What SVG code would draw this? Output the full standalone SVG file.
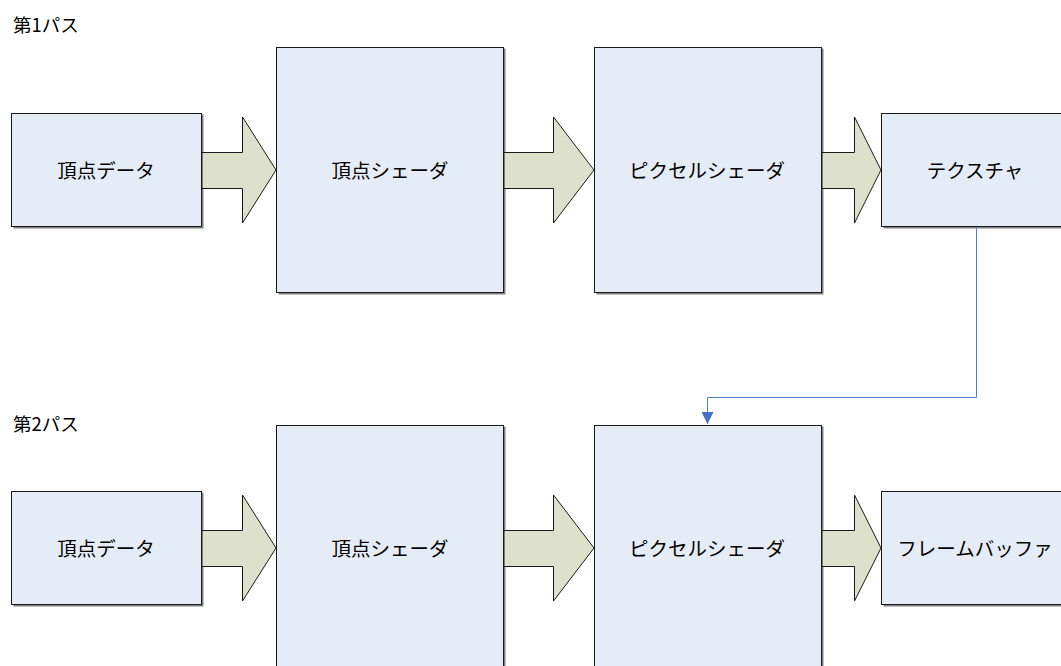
<svg xmlns="http://www.w3.org/2000/svg" width="1061" height="666" viewBox="0 0 1061 666">
<defs>
<style>
.box{fill:#e6ecf6;stroke:#1a1a1a;stroke-width:1}
.sh{fill:#808080}
.arr{fill:#dde0cb;stroke:#1a1a1a;stroke-width:1;stroke-linejoin:miter}
.lbl{font-family:"Noto Sans CJK JP","Noto Sans",sans-serif;font-size:19.5px;fill:#000;text-anchor:middle;dominant-baseline:central}
.ttl{font-family:"Noto Sans CJK JP","Noto Sans",sans-serif;font-size:18.5px;fill:#000}
.conn{fill:none;stroke:#4f7fc8;stroke-width:1}
</style>
<marker id="ah" viewBox="0 0 12 12" refX="12" refY="6" markerWidth="12" markerHeight="12" markerUnits="userSpaceOnUse" orient="auto">
<path d="M0,0 L12,6 L0,12 Z" fill="#4472c4"/>
</marker>
</defs>
<rect width="1061" height="666" fill="#fff"/>
<text class="ttl" x="13" y="32">第1パス</text>
<text class="ttl" x="13" y="431">第2パス</text>

<g id="p1-vertexdata"><rect class="sh" x="13.5" y="114.5" width="190" height="114"/><rect class="box" x="11.5" y="113.5" width="190" height="113"/><text class="lbl" x="106" y="169">頂点データ</text></g>
<g id="p1-vertexshader"><rect class="sh" x="278.5" y="48.5" width="227" height="246"/><rect class="box" x="276.5" y="47.5" width="227" height="245"/><text class="lbl" x="390" y="169">頂点シェーダ</text></g>
<g id="p1-pixelshader"><rect class="sh" x="596.5" y="48.5" width="227" height="246"/><rect class="box" x="594.5" y="47.5" width="227" height="245"/><text class="lbl" x="707" y="169">ピクセルシェーダ</text></g>
<g id="p1-texture"><rect class="sh" x="883.5" y="114.5" width="190" height="114"/><rect class="box" x="881.5" y="113.5" width="190" height="113"/><text class="lbl" x="975" y="169">テクスチャ</text></g>

<g id="p2-vertexdata"><rect class="sh" x="13.5" y="492.5" width="190" height="114"/><rect class="box" x="11.5" y="491.5" width="190" height="113"/><text class="lbl" x="106" y="547">頂点データ</text></g>
<g id="p2-vertexshader"><rect class="sh" x="278.5" y="426.5" width="227" height="260"/><rect class="box" x="276.5" y="425.5" width="227" height="260"/><text class="lbl" x="390" y="547">頂点シェーダ</text></g>
<g id="p2-pixelshader"><rect class="sh" x="596.5" y="426.5" width="227" height="260"/><rect class="box" x="594.5" y="425.5" width="227" height="260"/><text class="lbl" x="707" y="547">ピクセルシェーダ</text></g>
<g id="p2-framebuffer"><rect class="sh" x="883.5" y="492.5" width="190" height="114"/><rect class="box" x="881.5" y="491.5" width="190" height="113"/><text class="lbl" x="975" y="547">フレームバッファ</text></g>

<g id="connectors">
<path class="arr" d="M202,152.5 H242.5 V117 L276,170 L242.5,223 V188.5 H202 Z"/>
<path class="arr" d="M504,152.5 H553.5 V117 L594,170 L553.5,223 V188.5 H504 Z"/>
<path class="arr" d="M822,152.5 H854.5 V117 L881,170 L854.5,223 V188.5 H822 Z"/>
<path class="arr" d="M202,530.5 H242.5 V495 L276,548 L242.5,601 V566.5 H202 Z"/>
<path class="arr" d="M504,530.5 H553.5 V495 L594,548 L553.5,601 V566.5 H504 Z"/>
<path class="arr" d="M822,530.5 H854.5 V495 L881,548 L854.5,601 V566.5 H822 Z"/>
<path class="conn" d="M976.5,228 V397.5 H707.5 V424" marker-end="url(#ah)"/>
</g>
</svg>
